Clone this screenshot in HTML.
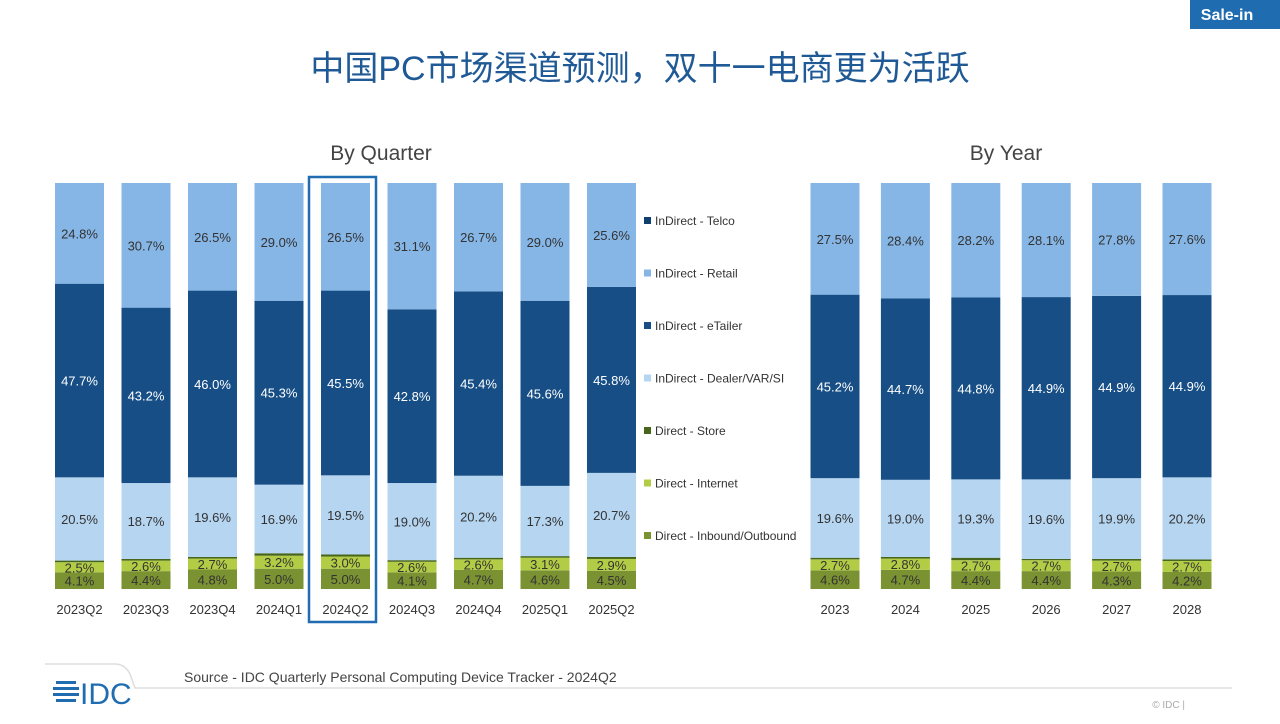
<!DOCTYPE html>
<html><head><meta charset="utf-8"><style>
body{margin:0;width:1280px;height:719px;background:#fff;overflow:hidden;font-family:"Liberation Sans","Noto Sans CJK SC",sans-serif;position:relative}
svg text{font-family:"Liberation Sans","Noto Sans CJK SC",sans-serif}
</style></head><body>
<svg width="1280" height="719">
<rect x="1190" y="0" width="90" height="29" fill="#1f6db0"/>
<text x="1227" y="20" text-anchor="middle" font-size="16" font-weight="bold" fill="#fff">Sale-in</text>
<text x="640" y="80" text-anchor="middle" font-size="34" fill="#1f5a96">中国PC市场渠道预测，双十一电商更为活跃</text>
<text x="381" y="160" text-anchor="middle" font-size="21" fill="#444">By Quarter</text>
<text x="1006" y="160" text-anchor="middle" font-size="21" fill="#444">By Year</text>
<g id="bars"></g>
<rect x="309" y="177" width="67" height="445" fill="none" stroke="#1f6db0" stroke-width="2.5"/>
<g id="legend"></g>
<path d="M45 664 H115 Q125 664 130 674 L135 688 H1232" fill="none" stroke="#ddd" stroke-width="1.5"/>
<g>
<rect x="56" y="681" width="20" height="3" fill="#1f6db0"/><rect x="53" y="687" width="26" height="3" fill="#1f6db0"/><rect x="53" y="693" width="26" height="3" fill="#1f6db0"/><rect x="56" y="699" width="20" height="3" fill="#1f6db0"/>
<text x="80" y="704" font-size="30" fill="#1f6db0">IDC</text></g>
<text x="184" y="682" font-size="14" fill="#444">Source - IDC Quarterly Personal Computing Device Tracker - 2024Q2</text>
<text x="1185" y="708" font-size="10" fill="#aaa" text-anchor="end">© IDC |</text>
</svg>
<script>
const qCats=["2023Q2","2023Q3","2023Q4","2024Q1","2024Q2","2024Q3","2024Q4","2025Q1","2025Q2"];
const yCats=["2023","2024","2025","2026","2027","2028"];
const qInbound=[4.1,4.4,4.8,5.0,5.0,4.1,4.7,4.6,4.5];
const qInternet=[2.5,2.6,2.7,3.2,3.0,2.6,2.6,3.1,2.9];
const qDealer=[20.5,18.7,19.6,16.9,19.5,19.0,20.2,17.3,20.7];
const qEtailer=[47.7,43.2,46.0,45.3,45.5,42.8,45.4,45.6,45.8];
const qRetail=[24.8,30.7,26.5,29.0,26.5,31.1,26.7,29.0,25.6];
const yInbound=[4.6,4.7,4.4,4.4,4.3,4.2];
const yInternet=[2.7,2.8,2.7,2.7,2.7,2.7];
const yDealer=[19.6,19.0,19.3,19.6,19.9,20.2];
const yEtailer=[45.2,44.7,44.8,44.9,44.9,44.9];
const yRetail=[27.5,28.4,28.2,28.1,27.8,27.6];
const seriesNames=["InDirect - Telco","InDirect - Retail","InDirect - eTailer","InDirect - Dealer/VAR/SI","Direct - Store","Direct - Internet","Direct - Inbound/Outbound"];
const colors={inb:"#7a9232",int:"#b2cc45",store:"#47661c",dealer:"#b5d5f1",et:"#164e85",ret:"#86b6e6",telco:"#0f3f6e"};
const legendColors=[colors.telco,colors.ret,colors.et,colors.dealer,colors.store,colors.int,colors.inb];
const NS="http://www.w3.org/2000/svg";
const plotTop=183,plotBot=589,plotH=plotBot-plotTop,BW=49;
const yScale=v=>plotH*v/100;
const qX=i=>79.5+i*66.5;
const yX=i=>835+i*70.4;
const g=document.getElementById('bars');
function mk(t,a){const e=document.createElementNS(NS,t);for(const k in a)e.setAttribute(k,a[k]);return e;}
function drawGroup(cats,xf,inb,int,dealer,et,ret,prefix){
 cats.forEach((c,i)=>{
  const segs=[["inb",inb[i],true],["int",int[i],true],["store",0,false],["dealer",dealer[i],true],["et",et[i],true],["ret",ret[i],true]];
  const sum=inb[i]+int[i]+dealer[i]+et[i]+ret[i];
  segs[2][1]=Math.max(0,100-sum);
  let y=plotBot;const cx=xf(i);
  segs.forEach(([k,v,lab])=>{
   const h=yScale(v);
   const r=mk('rect',{x:cx-BW/2,y:y-h,width:BW,height:h,fill:colors[k]});
   
   
   g.appendChild(r);
   if(lab){const t=mk('text',{x:cx,y:y-h/2+5,'text-anchor':'middle','font-size':13,fill:k==="et"?"#fff":"#333"});
    t.textContent=v.toFixed(1)+'%';
    
    
    g.appendChild(t);}
   y-=h;
  });
  const t=mk('text',{x:cx,y:614,'text-anchor':'middle','font-size':13,fill:'#333'});
  t.textContent=c;
  
  
  g.appendChild(t);
 });
}
drawGroup(qCats,qX,qInbound,qInternet,qDealer,qEtailer,qRetail,'q');
drawGroup(yCats,yX,yInbound,yInternet,yDealer,yEtailer,yRetail,'y');
const lg=document.getElementById('legend');
seriesNames.forEach((n,i)=>{
 const y=221+i*52.5;
 const r=mk('rect',{x:644,y:y-4,width:7,height:7,fill:legendColors[i]});
 
 
 lg.appendChild(r);
 const t=mk('text',{x:655,y:y+4,'font-size':12,fill:'#333'});
 t.textContent=n;
 
 
 lg.appendChild(t);
});
</script>
</body></html>
